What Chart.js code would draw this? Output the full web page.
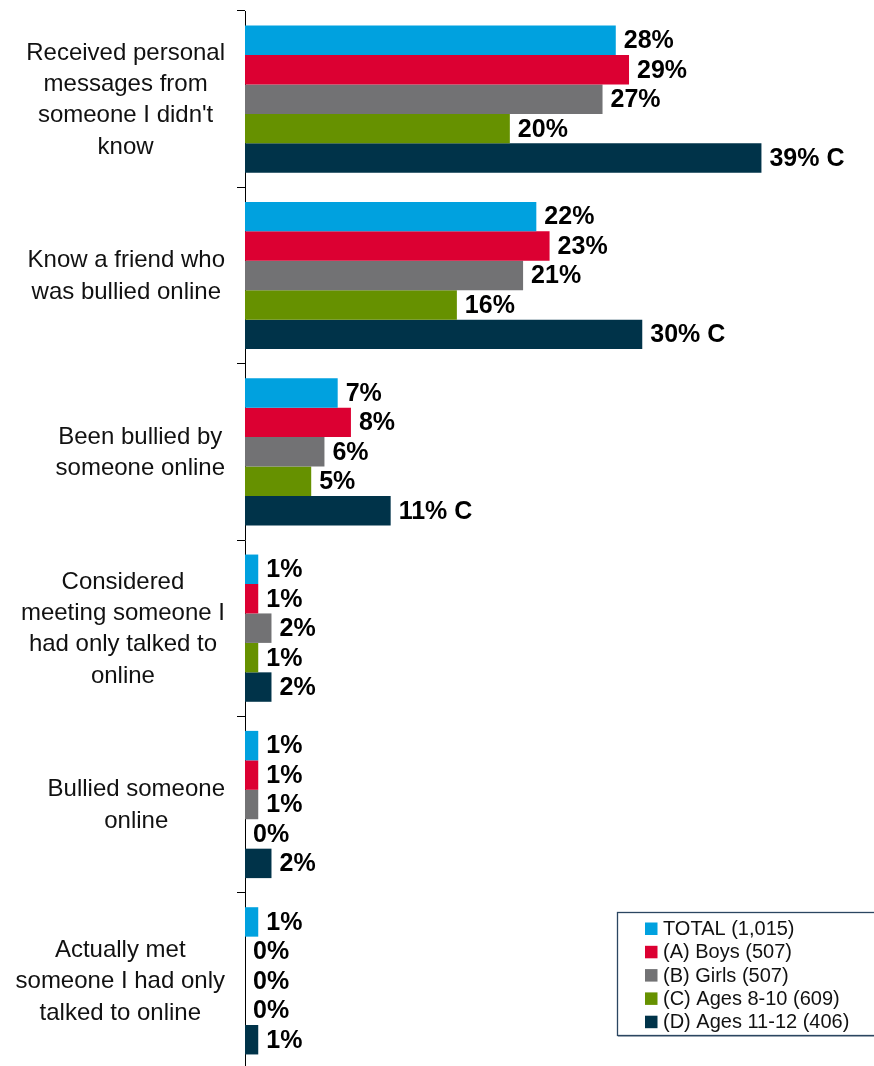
<!DOCTYPE html>
<html>
<head>
<meta charset="utf-8">
<script src="https://cdn.jsdelivr.net/npm/chart.js@4.4.1/dist/chart.umd.min.js"></script>
<style>
  html, body { margin: 0; padding: 0; background: #ffffff; overflow: hidden; }
  #wrap { width: 874px; height: 1066px; position: relative; overflow: hidden; }
  #chart { display: block; }
</style>
</head>
<body>
<div id="wrap"><canvas id="chart" width="874" height="1069"></canvas></div>
<script>
// Online experiences, share of children by group
const categories = [
  ['Received personal', 'messages from', "someone I didn't", 'know'],
  ['Know a friend who', 'was bullied online'],
  ['Been bullied by', 'someone online'],
  ['Considered', 'meeting someone I', 'had only talked to', 'online'],
  ['Bullied someone', 'online'],
  ['Actually met', 'someone I had only', 'talked to online']
];
const seriesNames = ['TOTAL (1,015)', '(A) Boys (507)', '(B) Girls (507)', '(C) Ages 8-10 (609)', '(D) Ages 11-12 (406)'];
const totalValues  = [28, 22, 7, 1, 1, 1];
const boysValues   = [29, 23, 8, 1, 1, 0];
const girlsValues  = [27, 21, 6, 2, 1, 0];
const ages8to10    = [20, 16, 5, 1, 0, 0];
const ages11to12   = [39, 30, 11, 2, 2, 1];
// significance letters shown after the Ages 11-12 values
const ages11to12Sig = ['C', 'C', 'C', '', '', ''];
const seriesColors = ['#00a1df', '#dc0032', '#727274', '#669100', '#003349'];

const FONT = '"Liberation Sans", Arial, sans-serif';

const seriesValues = [totalValues, boysValues, girlsValues, ages8to10, ages11to12];
const seriesSig = [null, null, null, null, ages11to12Sig];

// Value labels to the right of every bar
const valueLabels = {
  id: 'valueLabels',
  afterDatasetsDraw(chart) {
    const ctx = chart.ctx;
    ctx.save();
    ctx.font = 'bold 25px ' + FONT;
    ctx.fillStyle = '#000';
    ctx.textAlign = 'left';
    ctx.textBaseline = 'middle';
    chart.data.datasets.forEach((ds, di) => {
      const meta = chart.getDatasetMeta(di);
      meta.data.forEach((bar, i) => {
        const sig = seriesSig[di] ? seriesSig[di][i] : '';
        const txt = ds.data[i] + '%' + (sig ? ' ' + sig : '');
        ctx.fillText(txt, bar.x + 8, bar.y + 1);
      });
    });
    ctx.restore();
  }
};

// Category labels: lines centred within each block, block right-aligned next to the axis
const categoryLabels = {
  id: 'categoryLabels',
  afterDraw(chart) {
    const ctx = chart.ctx;
    const yScale = chart.scales.y;
    const lineH = 31.3;
    const rightEdge = 225;
    ctx.save();
    ctx.font = '24px ' + FONT;
    ctx.fillStyle = '#111';
    ctx.textAlign = 'center';
    ctx.textBaseline = 'middle';
    categories.forEach((lines, i) => {
      const widest = Math.max(...lines.map(l => ctx.measureText(l).width));
      const cx = rightEdge - widest / 2;
      const cy = yScale.getPixelForValue(i) + 1;
      const y0 = cy - (lines.length - 1) * lineH / 2;
      lines.forEach((l, k) => ctx.fillText(l, cx, y0 + k * lineH));
    });
    ctx.restore();
  }
};

// Boxed legend in the lower right corner
const boxLegend = {
  id: 'boxLegend',
  afterDraw(chart) {
    const ctx = chart.ctx;
    const left = 617, top = 912, bottom = 1035, right = 890;
    ctx.save();
    ctx.fillStyle = '#ffffff';
    ctx.fillRect(left, top, right - left, bottom - top);
    ctx.strokeStyle = 'rgba(120,135,150,0.6)';
    ctx.lineWidth = 1;
    ctx.beginPath();
    ctx.moveTo(left + 1, bottom + 1.5);
    ctx.lineTo(right, bottom + 1.5);
    ctx.stroke();
    ctx.strokeStyle = '#2b4661';
    ctx.lineWidth = 1.3;
    ctx.strokeRect(left + 0.5, top + 0.5, right - left, bottom - top);
    ctx.font = '20px ' + FONT;
    ctx.textAlign = 'left';
    ctx.textBaseline = 'middle';
    chart.data.datasets.forEach((ds, i) => {
      const cy = 928.5 + i * 23.3;
      ctx.fillStyle = ds.backgroundColor;
      ctx.fillRect(645, cy - 6, 12.5, 12.5);
      ctx.fillStyle = '#111';
      ctx.fillText(ds.label, 663, cy + 1);
    });
    ctx.restore();
  }
};

new Chart(document.getElementById('chart'), {
  type: 'bar',
  data: {
    labels: categories.map(c => c.join(' ')),
    datasets: seriesNames.map((name, i) => ({
      label: name,
      data: seriesValues[i],
      backgroundColor: seriesColors[i],
      borderWidth: 0,
      categoryPercentage: 0.835,
      barPercentage: 1.0
    }))
  },
  options: {
    indexAxis: 'y',
    responsive: false,
    animation: false,
    layout: { padding: { top: 11, right: 0, bottom: 0, left: 0 } },
    plugins: {
      legend: { display: false },
      tooltip: { enabled: false }
    },
    scales: {
      x: {
        display: false,
        min: 0,
        max: 47.5
      },
      y: {
        type: 'category',
        offset: true,
        ticks: { display: false },
        grid: {
          offset: true,
          drawOnChartArea: false,
          drawTicks: true,
          tickLength: 8,
          color: '#000',
          lineWidth: 1
        },
        border: { display: true, color: '#000', width: 1 },
        afterFit(scale) { scale.width = 245; }
      }
    }
  },
  plugins: [valueLabels, categoryLabels, boxLegend]
});
</script>
</body>
</html>
